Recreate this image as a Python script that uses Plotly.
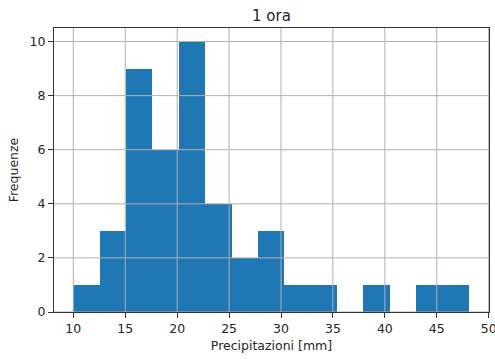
import plotly.graph_objects as go

# Data
bin_edges = [10.0, 12.54, 15.08, 17.62, 20.16, 22.7, 25.24, 27.78, 30.32,
             32.86, 35.4, 37.94, 40.48, 43.02, 45.56, 48.1]
counts = [1, 3, 9, 6, 10, 4, 2, 3, 1, 1, 0, 1, 0, 1, 1]
x_ticks = [10, 15, 20, 25, 30, 35, 40, 45, 50]
y_ticks = [0, 2, 4, 6, 8, 10]

title = "1 ora"
x_label = "Precipitazioni [mm]"
y_label = "Frequenze"

lefts = bin_edges[:-1]
widths = [b - a for a, b in zip(bin_edges[:-1], bin_edges[1:])]

FONT = "DejaVu Sans"
TXT = "#262626"
GRID = "#b0b0b0"

fig = go.Figure()
fig.add_trace(go.Bar(
    x=lefts, y=counts, width=widths, offset=0,
    marker=dict(color="#1f77b4", line=dict(width=0)),
    hoverinfo="skip",
))

xr = [8.14, 50.03]
yr = [0, 10.5]

# grid lines drawn above the bars (like matplotlib)
shapes = []
for t in x_ticks:
    shapes.append(dict(type="line", xref="x", yref="y", x0=t, x1=t, y0=yr[0], y1=yr[1],
                       line=dict(color=GRID, width=1), layer="above"))
for t in y_ticks:
    shapes.append(dict(type="line", xref="x", yref="y", x0=xr[0], x1=xr[1], y0=t, y1=t,
                       line=dict(color=GRID, width=1), layer="above"))

fig.update_layout(
    width=495, height=359,
    margin=dict(l=54, r=6, t=28, b=47),
    paper_bgcolor="white", plot_bgcolor="white",
    showlegend=False,
    bargap=0,
    font=dict(family=FONT, size=12.5, color=TXT),
    title=dict(text=title, x=0.5, xref="paper", xanchor="center",
               y=1 - 16 / 359, yanchor="middle", yref="container",
               font=dict(family=FONT, size=15, color=TXT)),
    shapes=shapes,
)
fig.update_xaxes(
    range=xr, tickvals=x_ticks, ticktext=[str(t) for t in x_ticks],
    showgrid=False, zeroline=False,
    showline=True, linecolor="#333333", linewidth=1, mirror=True,
    ticks="outside", ticklen=5, tickcolor="#333333", tickwidth=1,
    tickfont=dict(family=FONT, size=12.5, color=TXT),
    ticklabeloverflow="allow", automargin="bottom",
    title=dict(text=x_label, standoff=6, font=dict(family=FONT, size=12.5, color=TXT)),
    layer="above traces",
)
fig.update_yaxes(
    range=yr, tickvals=y_ticks, ticktext=[str(t) for t in y_ticks],
    showgrid=False, zeroline=False,
    showline=True, linecolor="#333333", linewidth=1, mirror=True,
    ticks="outside", ticklen=5, tickcolor="#333333", tickwidth=1,
    tickfont=dict(family=FONT, size=12.5, color=TXT),
    ticklabeloverflow="allow", automargin="left",
    title=dict(text=y_label, standoff=8, font=dict(family=FONT, size=12.5, color=TXT)),
    layer="above traces",
)

fig.write_html("out.html")
